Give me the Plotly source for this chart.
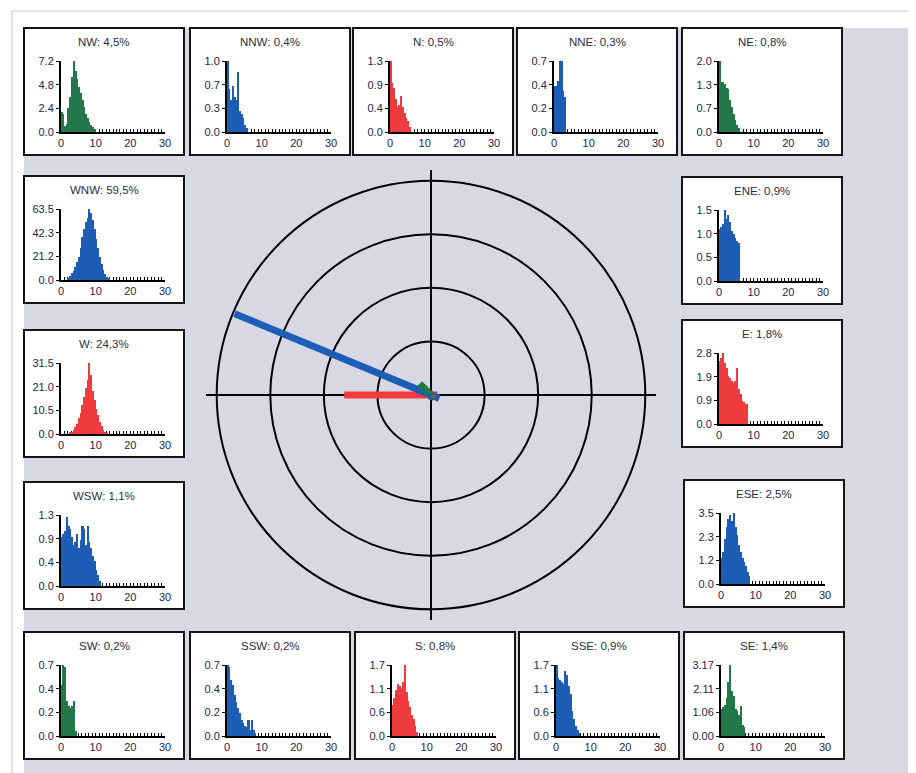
import plotly.graph_objects as go

# ---------------- data ----------------
directions = ["N", "NNE", "NE", "ENE", "E", "ESE", "SE", "SSE",
              "S", "SSW", "SW", "WSW", "W", "WNW", "NW", "NNW"]
percent = [0.5, 0.3, 0.8, 0.9, 1.8, 2.5, 1.4, 0.9,
           0.8, 0.2, 0.2, 1.1, 24.3, 59.5, 4.5, 0.4]
color_group = ["red", "blue", "green", "blue", "red", "blue", "green", "blue",
               "red", "blue", "green", "blue", "red", "blue", "green", "blue"]

# histogram bar heights (bin width 0.5, starting at speed 0)
bin_width = 0.5
hist_n = [1.3, 0.9, 0.8, 0.6, 0.45, 0.5, 0.66, 0.45, 0.35, 0.25, 0.2, 0.1]
hist_nne = [0.45, 0.45, 0.5, 0.7, 0.7, 0.4, 0.35]
hist_ne = [2.0, 1.4, 1.4, 1.35, 1.25, 1.2, 0.9, 0.7, 0.5, 0.35, 0.2, 0.1]
hist_ene = [1.1, 1.15, 1.2, 1.5, 1.3, 1.4, 1.25, 1.05, 1.0, 0.9, 0.85, 0.8]
hist_e = [2.5, 2.6, 2.8, 2.4, 2.2, 1.9, 1.8, 1.7, 1.6, 1.7, 2.2, 1.4, 1.2,
          0.9, 0.85, 0.8, 0.8]
hist_ese = [1.3, 1.6, 2.2, 2.8, 3.2, 3.4, 3.1, 3.5, 2.8, 2.4, 1.9, 1.6, 1.3,
            1.1, 0.9, 0.6, 0.4]
hist_se = [1.2, 1.3, 1.4, 1.7, 2.4, 3.17, 2.0, 1.8, 1.2, 1.1, 0.95, 1.35, 0.5, 0.4]
hist_sse = [1.7, 1.4, 1.35, 1.3, 1.25, 1.55, 1.45, 1.2, 1.0, 0.6, 0.4, 0.25,
            0.15, 0.08]
hist_s = [0.75, 0.9, 1.1, 1.25, 1.2, 1.15, 1.3, 1.7, 1.05, 0.85, 0.7, 0.5,
          0.4, 0.25, 0.1]
hist_ssw = [0.7, 0.68, 0.55, 0.5, 0.4, 0.34, 0.28, 0.23, 0.16, 0.13, 0.1,
            0.09, 0.16, 0.06, 0.16, 0.06, 0.03]
hist_sw = [0.5, 0.7, 0.68, 0.35, 0.3, 0.28, 0.3, 0.35, 0.05]
hist_wsw = [0.9, 0.95, 1.0, 1.26, 1.1, 1.05, 0.9, 0.75, 0.8, 0.95, 0.7, 0.85,
            1.1, 1.05, 0.75, 1.1, 0.8, 0.7, 0.55, 0.45, 0.3, 0.2, 0.1]
hist_w = [0, 0, 0, 0, 0, 0.5, 1.0, 1.8, 3.0, 4.5, 7.0, 9.5, 13.0, 16.5, 20.5,
          24.0, 31.5, 26.0, 19.0, 15.0, 11.0, 8.5, 5.5, 3.5, 1.8, 0.9, 0.3]
hist_wnw = [0, 0, 0, 0, 1.5, 3.2, 6.4, 8.3, 11.4, 15.9, 20.3, 28.6, 38.1, 45.7,
            52.1, 55.9, 63.5, 60.3, 54.0, 45.7, 36.8, 28.6, 21.0, 14.0, 8.9,
            5.1, 2.5, 1.3]
hist_nw = [2.0, 1.8, 0.6, 0.8, 2.4, 3.6, 5.6, 7.2, 6.2, 5.4, 4.6, 4.0, 3.2,
           2.5, 1.8, 1.4, 1.0, 0.7, 0.5, 0.3]
hist_nnw = [1.0, 0.6, 0.45, 0.65, 0.5, 0.45, 0.85, 0.3, 0.25, 0.2, 0.1, 0.05]

# y-axis maxima and tick labels of each small histogram
y_max = [1.3, 0.7, 2.0, 1.5, 2.8, 3.5, 3.17, 1.7,
         1.7, 0.7, 0.7, 1.3, 31.5, 63.5, 7.2, 1.0]
y_ticktext = [
    ["0.0", "0.4", "0.9", "1.3"], ["0.0", "0.2", "0.4", "0.7"],
    ["0.0", "0.7", "1.3", "2.0"], ["0.0", "0.5", "1.0", "1.5"],
    ["0.0", "0.9", "1.9", "2.8"], ["0.0", "1.2", "2.3", "3.5"],
    ["0.00", "1.06", "2.11", "3.17"], ["0.0", "0.6", "1.1", "1.7"],
    ["0.0", "0.6", "1.1", "1.7"], ["0.0", "0.2", "0.4", "0.7"],
    ["0.0", "0.2", "0.4", "0.7"], ["0.0", "0.4", "0.9", "1.3"],
    ["0.0", "10.5", "21.0", "31.5"], ["0.0", "21.2", "42.3", "63.5"],
    ["0.0", "2.4", "4.8", "7.2"], ["0.0", "0.3", "0.7", "1.0"],
]
x_ticks = [0, 10, 20, 30]

hists = [hist_n, hist_nne, hist_ne, hist_ene, hist_e, hist_ese, hist_se, hist_sse,
         hist_s, hist_ssw, hist_sw, hist_wsw, hist_w, hist_wnw, hist_nw, hist_nnw]

# ---------------- layout / style ----------------
W_PX, H_PX = 916, 773
OFF = 8  # default body margin of the html page
COLORS = {"blue": "#1d5db6", "green": "#23784a", "red": "#ef3b3d"}
BG = "#d8d8e4"
TEXT = "#2a2e44"
FONT = "Liberation Sans, Arial, sans-serif"

# panel top-left corners in (screen) pixels
PANEL_POS = {
    "NW": (24, 28), "NNW": (190, 28), "N": (353, 28), "NNE": (517, 28), "NE": (682, 28),
    "WNW": (24, 176), "W": (24, 330), "WSW": (24, 482),
    "ENE": (682, 177), "E": (682, 320), "ESE": (684, 480),
    "SW": (24, 632), "SSW": (190, 632), "S": (355, 632), "SSE": (519, 632), "SE": (684, 632),
}
PANEL_W, PANEL_H = 160, 127
CX, CY, R_PX = 431, 395, 225


def px(x):
    return (x - OFF) / W_PX


def py(y):
    return 1 - (y - OFF) / H_PX


fig = go.Figure()
layout = dict(
    width=W_PX, height=H_PX, margin=dict(l=0, r=0, t=0, b=0, autoexpand=False),
    paper_bgcolor=BG, plot_bgcolor="white", showlegend=False,
    font=dict(family=FONT, color=TEXT),
    bargap=0,
)
shapes = [
    dict(type="rect", xref="paper", yref="paper", x0=0, x1=1, y0=py(28), y1=1,
         fillcolor="white", line=dict(width=0), layer="below"),
    dict(type="rect", xref="paper", yref="paper", x0=0, x1=px(24), y0=0, y1=1,
         fillcolor="white", line=dict(width=0), layer="below"),
    dict(type="line", xref="paper", yref="paper", x0=px(12), x1=px(12), y0=0, y1=py(11),
         line=dict(color="#c4c4ce", width=1), layer="below"),
    dict(type="line", xref="paper", yref="paper", x0=px(12), x1=1, y0=py(11), y1=py(11),
         line=dict(color="#c4c4ce", width=1), layer="below"),
]
annotations = []

for k, d in enumerate(directions):
    idx = k + 1
    L, T = PANEL_POS[d]
    col = COLORS[color_group[k]]
    h = hists[k]
    xs = [bin_width * (i + 0.5) for i in range(len(h))]
    fig.add_trace(go.Bar(x=xs, y=h, width=bin_width, marker=dict(color=col, line=dict(width=0)),
                         xaxis=f"x{idx}", yaxis=f"y{idx}", hoverinfo="skip"))
    m = y_max[k]
    layout[f"xaxis{idx}"] = dict(
        domain=[px(L + 37), px(L + 141)], range=[0, 30], anchor=f"y{idx}",
        tickmode="array", tickvals=x_ticks, ticks="inside", ticklen=3, tickwidth=1,
        tickcolor="black", showline=True, linecolor="black", linewidth=2,
        showgrid=False, zeroline=False, layer="below traces", automargin=False,
        minor=dict(tickmode="linear", tick0=0, dtick=1, ticks="inside", ticklen=3,
                   tickcolor="black", tickwidth=1, showgrid=False),
        tickfont=dict(size=11, color="#22264a"), fixedrange=True,
    )
    layout[f"yaxis{idx}"] = dict(
        domain=[py(T + 104), py(T + 33)], range=[0, m], anchor=f"x{idx}",
        tickmode="array", tickvals=[0, m / 3, 2 * m / 3, m], ticktext=y_ticktext[k],
        ticks="outside", ticklen=3, tickcolor="black", showline=True, automargin=False,
        linecolor="black", linewidth=2, showgrid=False, zeroline=False,
        tickfont=dict(size=11, color="#22264a"), fixedrange=True,
    )
    shapes.append(dict(type="rect", xref="paper", yref="paper",
                       x0=px(L), x1=px(L + PANEL_W), y0=py(T + PANEL_H), y1=py(T),
                       fillcolor="white", line=dict(color="#151515", width=2), layer="below"))
    title = f"{d}: {percent[k]:.1f}%".replace(".", ",")
    annotations.append(dict(text=title, x=px(L + PANEL_W / 2), y=py(T + 14),
                            xref="paper", yref="paper", xanchor="center", yanchor="middle",
                            showarrow=False, font=dict(size=11.5, color=TEXT, family=FONT)))

# central rose: draw W then WNW first, others on top
order = [directions.index("W"), directions.index("WNW")]
order += [i for i in range(len(directions)) if i not in order]
for i in order:
    ang = i * 22.5
    fig.add_trace(go.Scatterpolar(
        r=[0, percent[i]], theta=[ang, ang], mode="lines",
        line=dict(color=COLORS[color_group[i]], width=7), hoverinfo="skip"))

layout["polar"] = dict(
    domain=dict(x=[px(CX - R_PX), px(CX + R_PX)], y=[py(CY + R_PX), py(CY - R_PX)]),
    bgcolor="rgba(0,0,0,0)",
    radialaxis=dict(range=[0, 63], tickvals=[15, 30, 45, 60], showticklabels=False,
                    ticks="", showline=False, gridcolor="black", gridwidth=1.5),
    angularaxis=dict(direction="clockwise", rotation=90, tickmode="array",
                     tickvals=[0, 90, 180, 270], showticklabels=False, ticks="",
                     showline=False, gridcolor="black", gridwidth=1.5),
)
layout["shapes"] = shapes
layout["annotations"] = annotations
fig.update_layout(**layout)
fig.write_html("out.html", config={"displayModeBar": False})
